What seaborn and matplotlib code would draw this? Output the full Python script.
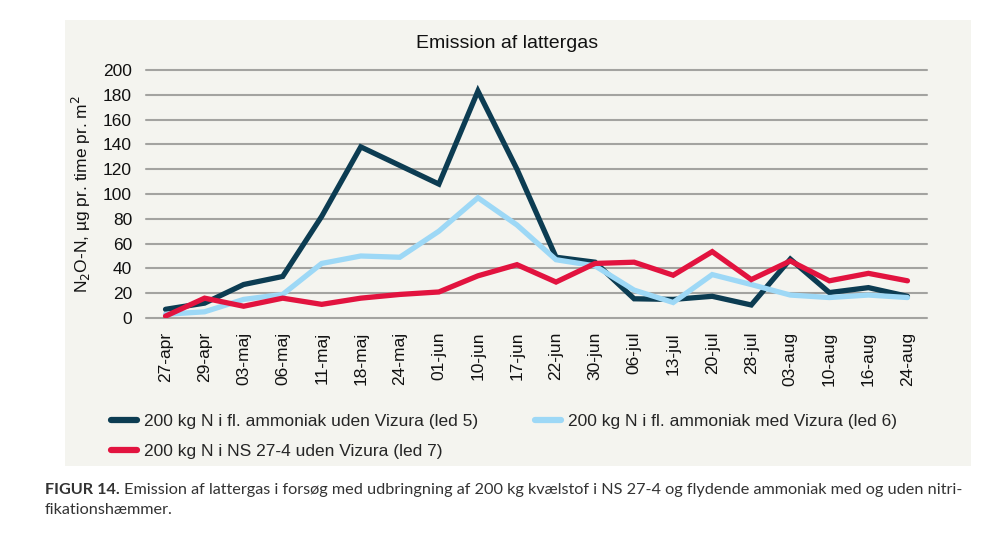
import matplotlib
matplotlib.use("Agg")
import matplotlib.pyplot as plt
import seaborn as sns
import pandas as pd
import numpy as np
from matplotlib.patches import Rectangle

dates = ["27-apr", "29-apr", "03-maj", "06-maj", "11-maj", "18-maj", "24-maj",
         "01-jun", "10-jun", "17-jun", "22-jun", "30-jun", "06-jul", "13-jul",
         "20-jul", "28-jul", "03-aug", "10-aug", "16-aug", "24-aug"]

led5 = [7, 12, 27, 33.5, 82, 138, 123, 108, 183, 120, 49, 45, 15.5, 15,
        17.5, 10.5, 47.5, 20.5, 24.5, 17.5]
led6 = [3, 5, 15, 19, 44, 50, 49, 70, 97, 75, 47, 42, 22.5, 12.5,
        35, 27, 18.5, 16.5, 18.5, 16.5]
led7 = [1.5, 16, 9.5, 16, 11, 16, 19, 21, 34, 43, 29, 44, 45, 34.5,
        53.5, 31, 46, 30, 36, 30]

names = ["200 kg N i fl. ammoniak uden Vizura (led 5)",
         "200 kg N i fl. ammoniak med Vizura (led 6)",
         "200 kg N i NS 27-4 uden Vizura (led 7)"]
colors = ["#0c3c52", "#9dd8f6", "#e2133f"]

df = pd.DataFrame({"pos": list(range(len(dates))) * 3,
                   "dato": dates * 3,
                   "serie": [names[0]] * 20 + [names[1]] * 20 + [names[2]] * 20,
                   "vaerdi": led5 + led6 + led7})

sns.set_style("white")
plt.rcParams["font.family"] = ["Liberation Sans", "DejaVu Sans"]

bg = "#f4f4ef"
fig = plt.figure(figsize=(10.04, 5.38), dpi=100)
fig.patches.append(Rectangle((65 / 1004, 1 - 466 / 538), 906 / 1004, 446 / 538,
                             transform=fig.transFigure, facecolor=bg,
                             edgecolor="none", zorder=-10))
ax = fig.add_axes([146 / 1004, 1 - 318 / 538, 781 / 1004, 248 / 538])
ax.set_facecolor(bg)

sns.lineplot(data=df, x="pos", y="vaerdi", hue="serie", palette=colors,
             linewidth=3.8, ax=ax, legend=False, sort=False)
for ln in ax.get_lines():
    ln.set_solid_capstyle("round")
    ln.set_solid_joinstyle("miter")
    ln.set_zorder(3)

ax.set_xlim(-0.5, len(dates) - 0.5)
ax.set_ylim(0, 200)
ax.set_yticks(range(0, 201, 20))
ax.set_xticks(range(len(dates)))
ax.set_xticklabels(dates, rotation=90)
ax.yaxis.grid(True, color="#a3a3a0", linewidth=1.5)
for gl in ax.get_ygridlines():
    gl.set_clip_on(False)
ax.set_axisbelow(True)
for s in ax.spines.values():
    s.set_visible(False)
ax.tick_params(axis="both", length=0, labelsize=12.5, colors="#111111")
ax.tick_params(axis="x", pad=10)
ax.tick_params(axis="y", pad=10)
ax.set_xlabel("")
ax.set_ylabel(r"N$_2$O-N, µg pr. time pr. m$^2$", fontsize=12.5, labelpad=7,
              color="#111111")
ax.set_title("Emission af lattergas", fontsize=14, color="#111111", pad=16,
             x=(507 - 146) / 781)

# legend fills column-wise, so order to get led5, led6 on the first row
handles = [plt.Line2D([], [], color=c, linewidth=4.5, solid_capstyle="round")
           for c in colors]
order = [0, 2, 1]
fig.legend([handles[i] for i in order], [names[i] for i in order], ncol=2,
           loc="upper left", bbox_to_anchor=(95 / 1004, 1 - 398 / 538),
           frameon=False, fontsize=12.5, handlelength=1.5, handletextpad=0.4,
           columnspacing=3.3, labelspacing=0.85)

cap_font = ["Lato", "DejaVu Sans"]
t1 = fig.text(45 / 1004, 1 - 494 / 538, "FIGUR 14.", fontsize=11.7,
              fontweight="bold", color="#333333", family=cap_font)
fig.canvas.draw()
x_end = t1.get_window_extent().x1 + 4
fig.text(x_end / 1004, 1 - 494 / 538,
         "Emission af lattergas i forsøg med udbringning af 200 kg kvælstof i NS 27-4 "
         "og flydende ammoniak med og uden nitri-",
         fontsize=11.7, color="#333333", family=cap_font)
fig.text(45 / 1004, 1 - 514 / 538, "fikationshæmmer.", fontsize=11.7,
         color="#333333", family=cap_font)

fig.savefig("out.png", dpi=100, facecolor="white")
